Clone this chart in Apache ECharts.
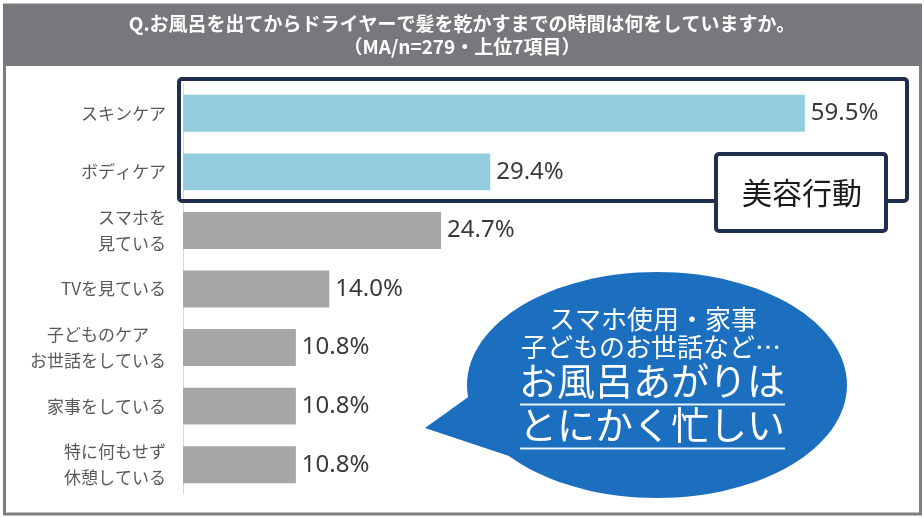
<!DOCTYPE html>
<html>
<head>
<meta charset="utf-8">
<script src="https://cdn.jsdelivr.net/npm/echarts@6/dist/echarts.min.js"></script>
<style>
  html, body { margin: 0; padding: 0; background: #fff; }
  #chart { width: 924px; height: 518px; }
</style>
</head>
<body>
<div id="chart"></div>
<script>
var categories = ['スキンケア', 'ボディケア', 'スマホを\n見ている', 'TVを見ている', '子どものケア\nお世話をしている', '家事をしている', '特に何もせず\n休憩している'];
var values = [59.5, 29.4, 24.7, 14.0, 10.8, 10.8, 10.8];
var beautyCount = 2; // first two bars = 美容行動

var titleLines = ['Q.お風呂を出てからドライヤーで髪を乾かすまでの時間は何をしていますか。', '（MA/n=279・上位7項目）'];
var bubbleLines = ['スマホ使用・家事', '子どものお世話など…', 'お風呂あがりは', 'とにかく忙しい'];

var jp = '"Noto Sans CJK JP", "Noto Sans", sans-serif';
var navy = '#1f2f4f';

var myChart = echarts.init(document.getElementById('chart'));

var option = {
    backgroundColor: '#fff',
    animation: false,
    grid: { left: 183, right: 9.5, top: 84, bottom: 24, containLabel: false },
    xAxis: {
        type: 'value', min: 0, max: 70,
        show: false
    },
    yAxis: {
        type: 'category',
        data: categories,
        inverse: true,
        axisLine: { show: true, lineStyle: { color: '#d9d9d9', width: 1 } },
        axisTick: { show: false },
        axisLabel: {
            margin: 17, align: 'right',
            formatter: function (v) {
                // each line centred inside the right-aligned block
                return v.split('\n').map(function (s) { return '{c|' + s + '}'; }).join('\n');
            },
            rich: {
                c: { fontSize: 17, color: '#595959', lineHeight: 26, fontFamily: jp, align: 'center' }
            }
        }
    },
    series: [{
        type: 'bar',
        data: values.map(function (v, i) {
            return { value: v, itemStyle: { color: i < beautyCount ? '#93cddd' : '#a6a6a6' } };
        }),
        barCategoryGap: '37%',
        label: {
            show: true, position: 'right', distance: 6,
            fontSize: 24, color: '#3a3a3a', fontFamily: '"Noto Sans", sans-serif',
            formatter: function (p) { return p.value.toFixed(1) + '%'; }
        }
    }],
    graphic: [
        // outer frame + title bar
        { type: 'rect', shape: { x: 4.5, y: 5, width: 916, height: 509 }, style: { fill: 'none', stroke: '#7f7c82', lineWidth: 3 }, z: 10 },
        { type: 'rect', shape: { x: 3, y: 5, width: 919, height: 61 }, style: { fill: '#7a777c' }, z: 10 },
        { type: 'text', style: { text: titleLines[0], x: 462, y: 24, textAlign: 'center', textVerticalAlign: 'middle', fill: '#fff', font: 'bold 19px ' + jp }, z: 11 },
        { type: 'text', style: { text: titleLines[1], x: 462, y: 47, textAlign: 'center', textVerticalAlign: 'middle', fill: '#fff', font: 'bold 19px ' + jp }, z: 11 },
        // beauty frame
        { type: 'rect', shape: { x: 179, y: 79, width: 728, height: 122, r: 3 }, style: { fill: 'none', stroke: navy, lineWidth: 4 }, z: 10 },
        { type: 'rect', shape: { x: 716, y: 154, width: 170, height: 77, r: 3 }, style: { fill: '#fff', stroke: navy, lineWidth: 4 }, z: 11 },
        { type: 'text', style: { text: '美容行動', x: 802, y: 193, textAlign: 'center', textVerticalAlign: 'middle', fill: '#1a1a1a', font: '30px ' + jp }, z: 12 },
        // speech bubble
        { type: 'polygon', shape: { points: [[425, 428], [485, 385], [515, 458]] }, style: { fill: '#1c6ebf' }, z: 10 },
        { type: 'ellipse', shape: { cx: 657, cy: 385, rx: 190, ry: 113 }, style: { fill: '#1c6ebf' }, z: 10 },
        { type: 'text', style: { text: bubbleLines[0], x: 653, y: 319, textAlign: 'center', textVerticalAlign: 'middle', fill: '#fff', font: '26px ' + jp }, z: 11 },
        { type: 'text', style: { text: bubbleLines[1], x: 651, y: 347, textAlign: 'center', textVerticalAlign: 'middle', fill: '#fff', font: '26px ' + jp }, z: 11 },
        { type: 'text', style: { text: bubbleLines[2], x: 652, y: 381, textAlign: 'center', textVerticalAlign: 'middle', fill: '#fff', font: '38px ' + jp }, z: 11 },
        { type: 'text', style: { text: bubbleLines[3], x: 652, y: 425, textAlign: 'center', textVerticalAlign: 'middle', fill: '#fff', font: '38px ' + jp }, z: 11 },
        { type: 'line', shape: { x1: 520, y1: 404.5, x2: 785, y2: 404.5 }, style: { stroke: '#e6f6ff', lineWidth: 2 }, z: 11 },
        { type: 'line', shape: { x1: 520, y1: 448.5, x2: 785, y2: 448.5 }, style: { stroke: '#e6f6ff', lineWidth: 2 }, z: 11 }
    ]
};
myChart.setOption(option);
</script>
</body>
</html>
